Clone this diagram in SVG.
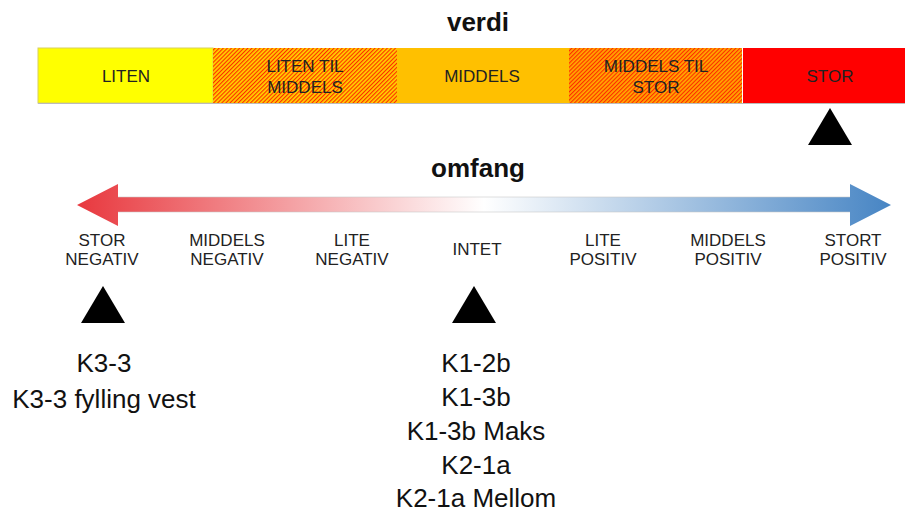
<svg xmlns="http://www.w3.org/2000/svg" width="905" height="514" viewBox="0 0 905 514">
  <style>
    .title { font-family: "Liberation Sans", Arial, sans-serif; font-weight: bold; font-size: 26px; fill: #111; text-anchor: middle; }
    .lbl { font-family: "Liberation Sans", Arial, sans-serif; font-size: 17px; fill: #222; text-anchor: middle; }
    .item { font-family: "Liberation Sans", Arial, sans-serif; font-size: 26px; fill: #111; text-anchor: middle; }
    .marker { fill: #000; }
  </style>
  <defs>
    <pattern id="hatchYellow" width="2.9" height="6" patternUnits="userSpaceOnUse" patternTransform="rotate(45)">
      <rect width="2.9" height="6" fill="#FFD000"/>
      <rect width="1.1" height="6" fill="#FF2A00"/>
    </pattern>
    <pattern id="hatchOrange" width="2.9" height="6" patternUnits="userSpaceOnUse" patternTransform="rotate(45)">
      <rect width="2.9" height="6" fill="#FFA800"/>
      <rect width="1.1" height="6" fill="#FF2A00"/>
    </pattern>
    <linearGradient id="scaleGrad" gradientUnits="userSpaceOnUse" x1="77" y1="0" x2="891" y2="0">
      <stop offset="0" stop-color="#E8383E"/>
      <stop offset="0.5" stop-color="#FFFFFF"/>
      <stop offset="1" stop-color="#4785C4"/>
    </linearGradient>
  </defs>

  <rect width="905" height="514" fill="#FFFFFF"/>

  <!-- value scale -->
  <g id="verdi">
    <text class="title" x="478" y="31">verdi</text>
    <g id="verdi-liten">
      <rect x="38" y="48" width="175" height="55" fill="#FFFF00" stroke="#D8D060" stroke-width="1"/>
      <text class="lbl" x="126" y="82">LITEN</text>
    </g>
    <g id="verdi-liten-middels">
      <rect x="213" y="48" width="184" height="55" fill="url(#hatchYellow)"/>
      <text class="lbl" x="305" y="72">LITEN TIL</text>
      <text class="lbl" x="305" y="93">MIDDELS</text>
    </g>
    <g id="verdi-middels">
      <rect x="397" y="48" width="172" height="55" fill="#FFC000"/>
      <text class="lbl" x="482" y="82">MIDDELS</text>
    </g>
    <g id="verdi-middels-stor">
      <rect x="569" y="48" width="173" height="55" fill="url(#hatchOrange)"/>
      <text class="lbl" x="656" y="72">MIDDELS TIL</text>
      <text class="lbl" x="656" y="93">STOR</text>
    </g>
    <g id="verdi-stor">
      <rect x="743" y="48" width="162" height="55" fill="#FF0000"/>
      <text class="lbl" x="830" y="82">STOR</text>
    </g>
    <line x1="38" y1="103.5" x2="905" y2="103.5" stroke="#BBBBBB" stroke-width="1"/>
    <polygon class="marker" points="830,108 852,145 808,145"/>
  </g>

  <!-- extent scale -->
  <g id="omfang">
    <text class="title" x="478" y="177">omfang</text>
    <polygon points="77,205 118,184 118,197 850,197 850,184 891,205 850,226 850,212 118,212 118,226" fill="url(#scaleGrad)"/>
    <line x1="118" y1="197" x2="850" y2="197" stroke="#C8C8C8" stroke-width="0.8" opacity="0.7"/>
    <line x1="118" y1="212" x2="850" y2="212" stroke="#C8C8C8" stroke-width="0.8" opacity="0.7"/>
    <g id="stor-negativ"><text class="lbl" x="102" y="246">STOR</text><text class="lbl" x="102" y="265">NEGATIV</text></g>
    <g id="middels-negativ"><text class="lbl" x="227" y="246">MIDDELS</text><text class="lbl" x="227" y="265">NEGATIV</text></g>
    <g id="lite-negativ"><text class="lbl" x="352" y="246">LITE</text><text class="lbl" x="352" y="265">NEGATIV</text></g>
    <g id="intet"><text class="lbl" x="477" y="255">INTET</text></g>
    <g id="lite-positiv"><text class="lbl" x="603" y="246">LITE</text><text class="lbl" x="603" y="265">POSITIV</text></g>
    <g id="middels-positiv"><text class="lbl" x="728" y="246">MIDDELS</text><text class="lbl" x="728" y="265">POSITIV</text></g>
    <g id="stort-positiv"><text class="lbl" x="853" y="246">STORT</text><text class="lbl" x="853" y="265">POSITIV</text></g>
    <polygon class="marker" points="103,286 125,323 81,323"/>
    <polygon class="marker" points="474,286 496,323 452,323"/>
  </g>

  <!-- assessed items -->
  <g id="items-negativ">
    <text class="item" x="104" y="372">K3-3</text>
    <text class="item" x="104" y="408">K3-3 fylling vest</text>
  </g>
  <g id="items-intet">
    <text class="item" x="476" y="372">K1-2b</text>
    <text class="item" x="476" y="406">K1-3b</text>
    <text class="item" x="476" y="440">K1-3b Maks</text>
    <text class="item" x="476" y="474">K2-1a</text>
    <text class="item" x="476" y="507">K2-1a Mellom</text>
  </g>
</svg>
